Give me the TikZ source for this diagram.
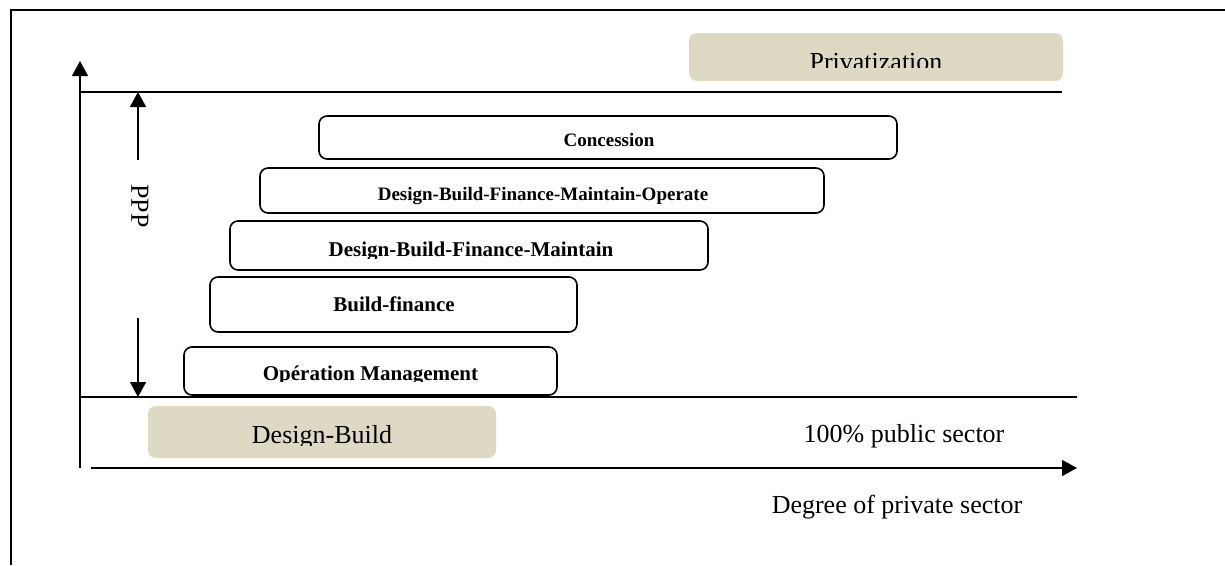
\documentclass[tikz,border=0pt]{standalone}
\usepackage{fontspec}
\setmainfont{Liberation Serif}
\usetikzlibrary{arrows.meta}
\definecolor{tanfill}{HTML}{DDD9C3}
\tikzset{
  stagebox/.style={draw=black, line width=1.6pt, rounded corners=8pt, fill=white, inner sep=0pt},
  sectorbox/.style={fill=tanfill, rounded corners=8pt, inner sep=0pt},
  biglabel/.style={font=\fontsize{26}{30}\selectfont, inner sep=0pt, anchor=base},
  boldlabel/.style={font=\bfseries\fontsize{21}{25}\selectfont, inner sep=0pt, anchor=base},
  smalllabel/.style={font=\bfseries\fontsize{19}{23}\selectfont, inner sep=0pt, anchor=base},
  axis/.style={line width=1.6pt, -{Triangle[length=15pt,width=16pt]}},
  rule/.style={line width=1.6pt},
}
\begin{document}
\begin{tikzpicture}[x=1pt, y=-1pt]
\useasboundingbox (0,0) rectangle (1225,565);

% outer frame (top and left edges)
\coordinate (fbl) at (11,565);
\coordinate (ftl) at (11,10);
\coordinate (ftr) at (1225,10);
\draw[line width=2pt] (fbl) -- (ftl) -- (ftr);

% axes
\coordinate (yfoot) at (80,468);
\coordinate (ytip) at (80,61);
\coordinate (xfoot) at (91,468);
\coordinate (xtip) at (1077,468);
\draw[axis] (yfoot) -- (ytip);
\draw[axis] (xfoot) -- (xtip);

% PPP band limits
\coordinate (topl) at (80,92);
\coordinate (topr) at (1062,92);
\coordinate (botl) at (80,397);
\coordinate (botr) at (1077,397);
\draw[rule] (topl) -- (topr);
\draw[rule] (botl) -- (botr);

% PPP range arrows and label
\node[biglabel, anchor=center, rotate=-90] (ppp) at (140,206) {PPP};
\coordinate (pppup) at (138,160);
\coordinate (pppuptip) at (138,92);
\coordinate (pppdn) at (138,318);
\coordinate (pppdntip) at (138,397);
\draw[axis] (pppup) -- (pppuptip);
\draw[axis] (pppdn) -- (pppdntip);

% sector boxes
\node[sectorbox, minimum width=374pt, minimum height=48pt] (priv) at (876,57) {};
\node[sectorbox, minimum width=348pt, minimum height=52pt] (db) at (322,432) {};
\begin{scope}
  \clip (689,33) rectangle (1063,67);
  \node[biglabel] (privtxt) at (876,70) {Privatization};
\end{scope}
\begin{scope}
  \clip (148,406) rectangle (496,445);
  \node[biglabel] (dbtxt) at (322,443) {Design-Build};
\end{scope}

% PPP stages
\node[stagebox, minimum width=578pt, minimum height=43pt] (conc) at (608,137.5) {};
\node[stagebox, minimum width=564pt, minimum height=45pt] (dbfmo) at (542,190.5) {};
\node[stagebox, minimum width=478pt, minimum height=49pt] (dbfm) at (469,245.5) {};
\node[stagebox, minimum width=367pt, minimum height=55pt] (bf) at (393.5,304.5) {};
\node[stagebox, minimum width=373pt, minimum height=48pt] (om) at (370.5,371) {};

\node[smalllabel] (conctxt) at (609,146) {Concession};
\node[smalllabel] (dbfmotxt) at (543,200) {Design-Build-Finance-Maintain-Operate};
\begin{scope}
  \clip (230,221) rectangle (708,258);
  \node[boldlabel] (dbfmtxt) at (471,256) {Design-Build-Finance-Maintain};
\end{scope}
\node[boldlabel] (bftxt) at (394,311) {Build-finance};
\begin{scope}
  \clip (184,347) rectangle (557,381.5);
  \node[boldlabel] (omtxt) at (370.5,380) {Opération Management};
\end{scope}

% axis captions
\node[biglabel] (pub) at (904,442) {100\% public sector};
\node[biglabel] (deg) at (897,513) {Degree of private sector};
\end{tikzpicture}
\end{document}
